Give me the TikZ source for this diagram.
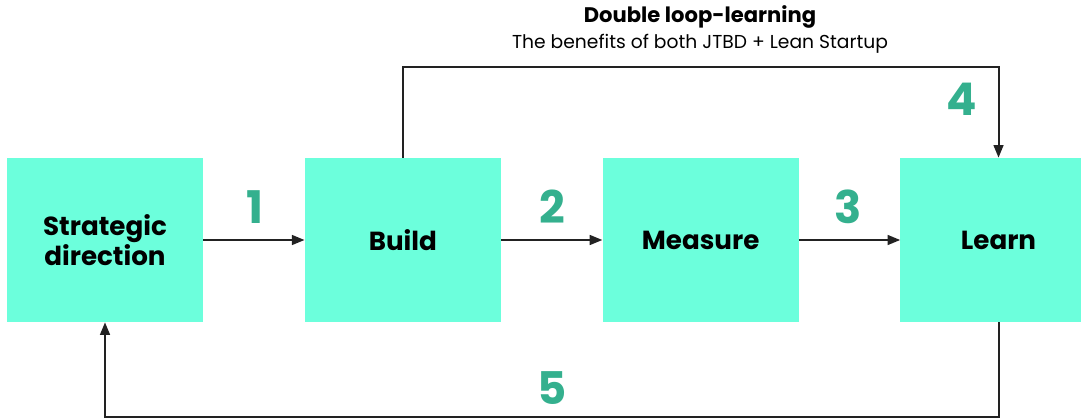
\documentclass[tikz,border=0pt]{standalone}
\usepackage{fontspec}
\setmainfont{Poppins}
\usetikzlibrary{arrows.meta,positioning}
\definecolor{loopmint}{RGB}{108,255,220}
\definecolor{loopteal}{RGB}{52,176,142}
\definecolor{loopink}{RGB}{34,34,34}

\begin{document}
\begin{tikzpicture}[>={Triangle[length=9pt,width=7pt]},x=0.025cm,y=-0.025cm,
 stage/.style={fill=loopmint,minimum width=4.9cm,minimum height=4.1cm,inner sep=0pt,
  align=center,font=\bfseries\fontsize{18.6}{21.5}\selectfont},
 flow/.style={->,draw=loopink,line width=1.4pt},
 stepnum/.style={text=loopteal,inner sep=0pt,font=\bfseries\fontsize{32}{32}\selectfont}]
\clip (0,0) rectangle (1081,419);
% the four stages
\node[stage] (strat) at (105,240) {Strategic\\direction};
\node[stage,right=2.53cm of strat] (build) {Build};
\node[stage,right=2.53cm of build] (measure) {Measure};
\node[stage,right=2.53cm of measure] (learn) {Learn};
\draw[flow] (strat) -- (build);
\draw[flow] (build) -- (measure);
\draw[flow] (measure) -- (learn);
% outer loops
\draw[flow] (build.north) -- ++(0,-91) -| (learn.north);
\draw[flow] (learn.south) -- ++(0,95) -| (strat.south);
\node[font=\bfseries\fontsize{15}{17}\selectfont] (title) at (700,17) {Double loop-learning};
\node[font=\fontsize{13.3}{15}\selectfont] (subtitle) at (700,44) {The benefits of both JTBD + Lean Startup};
\foreach \n/\x/\y in {1/255/207,2/552/207,3/848/207,4/962/99,5/552/388}
 \node[stepnum] (num\n) at (\x,\y) {\n};
\end{tikzpicture}
\end{document}
